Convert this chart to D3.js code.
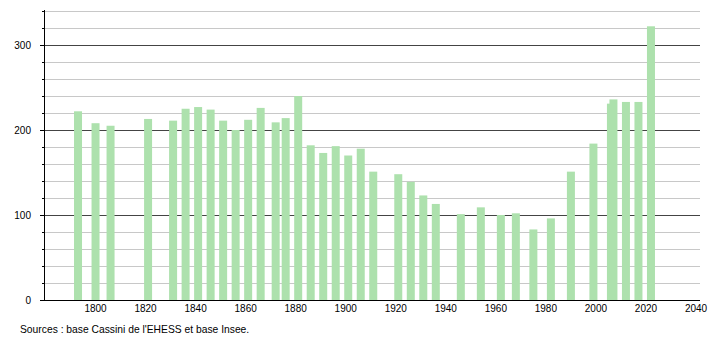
<!DOCTYPE html>
<html>
<head>
<meta charset="utf-8">
<script src="https://cdn.jsdelivr.net/npm/d3@7"></script>
<style>
  body { margin: 0; background: #fff; }
  text { font-family: "Liberation Sans", Arial, sans-serif; }
</style>
</head>
<body>
<svg id="chart" width="710" height="340"></svg>
<script>
// années de recensement et population
const years = [1793, 1800, 1806, 1821, 1831, 1836, 1841, 1846, 1851, 1856,
  1861, 1866, 1872, 1876, 1881, 1886, 1891, 1896, 1901, 1906,
  1911, 1921, 1926, 1931, 1936, 1946, 1954, 1962, 1968, 1975,
  1982, 1990, 1999, 2006, 2007, 2012, 2017, 2022]
const population = [222, 208, 205, 213, 211, 225, 227, 224, 211, 200,
  212, 226, 209, 214, 240, 182, 173, 181, 170, 178,
  151, 148, 139, 123, 113, 101, 109, 100, 102, 83,
  96, 151, 184, 231, 236, 233, 233, 322]
const xTicks = [1800, 1820, 1840, 1860, 1880, 1900, 1920, 1940, 1960, 1980, 2000, 2020, 2040]
const yTicks = [0, 100, 200, 300]
const source = "Sources : base Cassini de l'EHESS et base Insee."

const svg = d3.select('#chart')
const plotLeft = 44, plotRight = 700, plotTop = 11, plotBottom = 300
const barWidth = 8

const x = d3.scaleLinear().domain([1780, 2040]).range([45.5, 696])
const y = d3.scaleLinear().domain([0, 340]).range([plotBottom, plotTop])

// lignes de grille, toutes les 20, foncées toutes les 100
const grid = d3.range(20, 341, 20)
svg.append('g')
  .selectAll('line')
  .data(grid)
  .join('line')
  .attr('x1', plotLeft)
  .attr('x2', plotRight)
  .attr('y1', d => y(d) + 0.5)
  .attr('y2', d => y(d) + 0.5)
  .attr('stroke', d => d % 100 === 0 ? '#444' : '#c8c8c8')
  .attr('stroke-width', 1)

// barres
svg.append('g')
  .selectAll('rect')
  .data(years)
  .join('rect')
  .attr('x', (d, i) => x(d) - barWidth / 2)
  .attr('y', (d, i) => y(population[i]))
  .attr('width', barWidth)
  .attr('height', (d, i) => plotBottom - y(population[i]))
  .attr('fill', '#ade1ad')

// axe Y
const yAxis = svg.append('g')
yAxis.append('line')
  .attr('x1', plotLeft + 0.5).attr('x2', plotLeft + 0.5)
  .attr('y1', plotTop - 1).attr('y2', plotBottom)
  .attr('stroke', '#000')
yAxis.selectAll('.tick')
  .data(grid)
  .join('line')
  .attr('class', 'tick')
  .attr('x1', d => d % 100 === 0 ? plotLeft - 4 : plotLeft - 2)
  .attr('x2', plotLeft)
  .attr('y1', d => y(d) + 0.5)
  .attr('y2', d => y(d) + 0.5)
  .attr('stroke', '#000')
yAxis.append('line')
  .attr('x1', plotLeft - 4).attr('x2', plotLeft)
  .attr('y1', plotBottom + 0.5).attr('y2', plotBottom + 0.5)
  .attr('stroke', '#000')
yAxis.selectAll('text')
  .data(yTicks)
  .join('text')
  .attr('x', 31)
  .attr('y', d => y(d))
  .attr('dy', '0.35em')
  .attr('text-anchor', 'end')
  .attr('font-size', '10px')
  .attr('fill', '#000')
  .text(d => d)

// axe X
const xAxis = svg.append('g')
xAxis.append('line')
  .attr('x1', plotLeft).attr('x2', plotRight)
  .attr('y1', plotBottom + 0.5).attr('y2', plotBottom + 0.5)
  .attr('stroke', '#000')
xAxis.selectAll('text')
  .data(xTicks)
  .join('text')
  .attr('x', d => x(d))
  .attr('y', 312)
  .attr('text-anchor', 'middle')
  .attr('font-size', '10px')
  .attr('fill', '#000')
  .text(d => d)

svg.append('text')
  .attr('x', 20)
  .attr('y', 333)
  .attr('font-size', '10.3px')
  .attr('fill', '#000')
  .text(source)
</script>
</body>
</html>
